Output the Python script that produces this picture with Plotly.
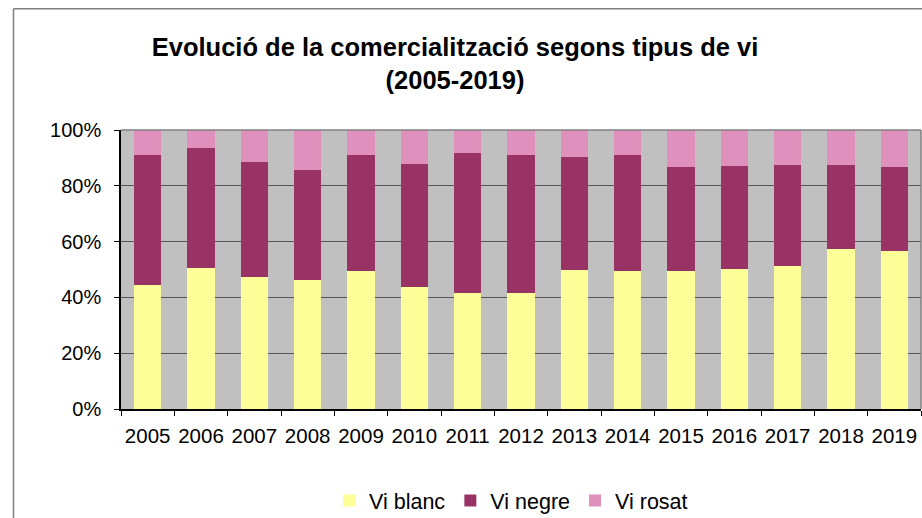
import plotly.graph_objects as go

years = [str(y) for y in range(2005, 2020)]
vi_blanc = [44.5, 50.6, 47.2, 46.4, 49.3, 43.8, 41.5, 41.4, 49.8, 49.6, 49.6, 50.2, 51.3, 57.4, 56.5]
vi_negre = [46.5, 43.0, 41.5, 39.1, 41.9, 44.1, 50.2, 49.6, 40.5, 41.3, 37.1, 36.9, 36.1, 29.9, 30.2]
vi_rosat = [9.0, 6.4, 11.3, 14.5, 8.8, 12.1, 8.3, 9.0, 9.7, 9.1, 13.3, 12.9, 12.6, 12.7, 13.3]
series_names = ["Vi blanc", "Vi negre", "Vi rosat"]
colors = ["#FFFF99", "#993366", "#DF90BD"]
y_ticks = [0, 20, 40, 60, 80, 100]
y_ticklabels = ["0%", "20%", "40%", "60%", "80%", "100%"]

fig = go.Figure()
for name, vals, col in zip(series_names, [vi_blanc, vi_negre, vi_rosat], colors):
    fig.add_trace(go.Bar(x=years, y=vals, name=name, marker=dict(color=col, line=dict(width=0))))

W, H = 922, 518
L, T = 121, 130
R = W - 921
B = H - 409
pw, ph = W - L - R, H - T - B

def px_to_paper_x(px):
    return (px - L) / pw

def px_to_paper_y(py):
    return (H - B - py) / ph

font = "Liberation Sans, Arial, sans-serif"
fig.update_layout(
    width=W, height=H,
    margin=dict(l=L, r=R, t=T, b=B, autoexpand=False),
    barmode="stack",
    bargap=0.49,
    plot_bgcolor="#C0C0C0",
    paper_bgcolor="white",
    font=dict(family=font, size=20, color="black"),
    title=dict(
        text="Evolució de la comercialització segons tipus de vi<br>(2005-2019)",
        font=dict(family=font, size=25.5, color="black", weight="bold"),
        x=455 / W, xanchor="center",
        y=1 - 56 / H, yanchor="top",
    ),
    legend=dict(
        orientation="h", x=px_to_paper_x(511), xanchor="center",
        y=px_to_paper_y(480), yanchor="top",
        font=dict(family=font, size=21.5), traceorder="normal",
        itemwidth=30,
    ),
    xaxis=dict(
        type="category", tickson="boundaries", ticks="outside", ticklen=5,
        tickcolor="black", showline=True, linecolor="black", linewidth=1.5,
        showgrid=False, tickfont=dict(size=20.5), mirror=False,
        tickangle=0, automargin=False, ticklabelstandoff=8,
    ),
    yaxis=dict(
        range=[0, 100], tickvals=y_ticks, ticktext=y_ticklabels, ticks="outside",
        ticklen=5, tickcolor="black", showline=True, linecolor="black", linewidth=1.5,
        showgrid=True, gridcolor="#555555", gridwidth=1, tickfont=dict(size=20),
        zeroline=False, automargin=False, ticklabelstandoff=9,
    ),
    showlegend=True,
)

# plot area top and right border (gray)
fig.add_shape(type="line", xref="paper", yref="paper", x0=0, x1=1, y0=1, y1=1,
              line=dict(color="#808080", width=1.5))
fig.add_shape(type="line", xref="paper", yref="paper", x0=1, x1=1, y0=0, y1=1,
              line=dict(color="#808080", width=1.5))
# chart area outer border (left and top)
fig.add_shape(type="line", xref="paper", yref="paper",
              x0=px_to_paper_x(13.5), x1=px_to_paper_x(13.5),
              y0=px_to_paper_y(530), y1=px_to_paper_y(8.75),
              line=dict(color="#808080", width=1.5))
fig.add_shape(type="line", xref="paper", yref="paper",
              x0=px_to_paper_x(13.5), x1=px_to_paper_x(930),
              y0=px_to_paper_y(8.75), y1=px_to_paper_y(8.75),
              line=dict(color="#808080", width=1.5))

# remove the default 8px page margin so the figure sits at the window's corner
fig.write_html(
    "out.html",
    config={"displayModeBar": False},
    post_script="document.body.style.margin='0';document.body.style.overflow='hidden';",
)
